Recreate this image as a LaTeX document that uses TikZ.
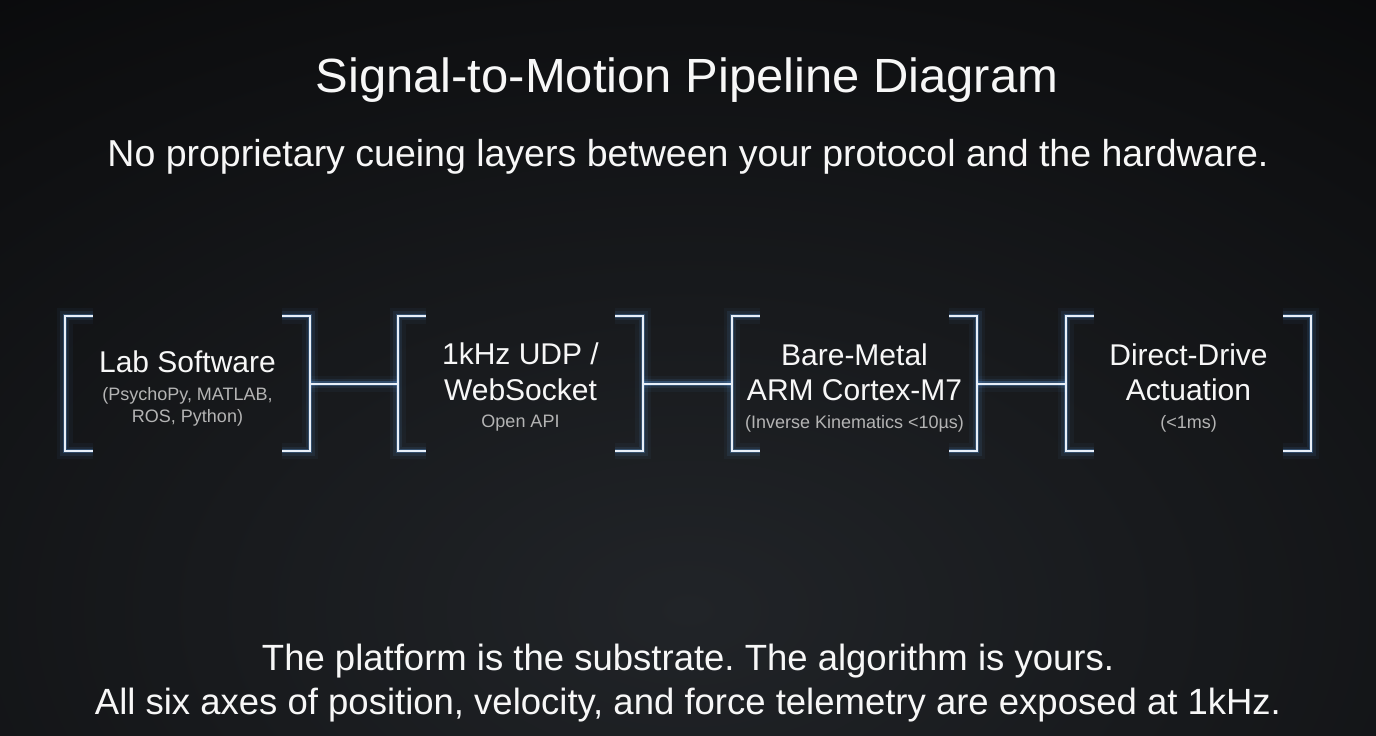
\documentclass[tikz,border=0pt]{standalone}
\usepackage{fontspec}
\setmainfont{Liberation Sans}
\newfontfamily\titlefont[FakeStretch=1.02]{Liberation Sans}
\usetikzlibrary{calc}
\definecolor{bgout}{HTML}{060607}
\definecolor{bgin}{HTML}{212428}
\definecolor{glow}{HTML}{5A9BE0}
\definecolor{linec}{HTML}{E8EFF8}
\definecolor{subc}{HTML}{B4B4B4}
\definecolor{mainc}{HTML}{F7F7F7}
\tikzset{
  stagebox/.style={draw=none,minimum width=245pt,minimum height=135pt,inner sep=0pt},
  glowA/.style={draw=glow,line width=16pt,opacity=0.05,line join=miter},
  glowB/.style={draw=glow,line width=9pt,opacity=0.10,line join=miter},
  glowC/.style={draw=glow,line width=4.5pt,opacity=0.30,line join=miter},
  coreline/.style={draw=linec,line width=2pt,line join=miter},
  titletxt/.style={text=mainc,anchor=base,inner sep=0pt,font=\titlefont\fontsize{48}{56}\selectfont},
  subtitletxt/.style={text=mainc,anchor=base,inner sep=0pt,font=\fontsize{37.5}{44}\selectfont},
  boxtitle/.style={text=mainc,anchor=base,inner sep=0pt,font=\fontsize{30}{36}\selectfont},
  boxsub/.style={text=subc,anchor=base,inner sep=0pt,font=\fontsize{18}{21}\selectfont},
  foottxt/.style={text=mainc,anchor=base,inner sep=0pt,font=\fontsize{36.5}{42}\selectfont},
}
\begin{document}
\frenchspacing
\begin{tikzpicture}[x=1pt,y=-1pt]
\useasboundingbox (0,0) rectangle (1376,736);
\fill[bgout] (0,0) rectangle (1376,736);
\begin{scope}
\clip (0,0) rectangle (1376,736);
\shade[inner color=bgin,outer color=bgout] (688,610) ellipse (1450 and 900);
\end{scope}

% stage nodes
\node[stagebox] (b1) at (187.5,383.5) {};
\node[stagebox] (b2) at (520.5,383.5) {};
\node[stagebox] (b3) at (854.5,383.5) {};
\node[stagebox] (b4) at (1188.5,383.5) {};

% connectors and brackets, glow layers first
\foreach \st in {glowA,glowB,glowC,coreline}{
  \draw[\st] (b1.east) -- (b2.west);
  \draw[\st] (b2.east) -- (b3.west);
  \draw[\st] (b3.east) -- (b4.west);
  \foreach \b in {b1,b2,b3,b4}{
    \draw[\st] ([xshift=28pt]\b.north west) -- (\b.north west) -- (\b.south west) -- ([xshift=28pt]\b.south west);
    \draw[\st] ([xshift=-28pt]\b.north east) -- (\b.north east) -- (\b.south east) -- ([xshift=-28pt]\b.south east);
  }
}

% headings
\node[titletxt] (title) at (687,92) {Signal-to-Motion Pipeline Diagram};
\node[subtitletxt] (subtitle) at (688,166.5) {No proprietary cueing layers between your protocol and the hardware.};

% box texts
\node[boxtitle] (t1) at (187.5,372) {Lab Software};
\node[boxsub] (s1a) at (187.5,400) {(PsychoPy, MATLAB,};
\node[boxsub] (s1b) at (187.5,422) {ROS, Python)};

\node[boxtitle] (t2a) at (520.5,364) {1kHz UDP /};
\node[boxtitle] (t2b) at (520.5,400) {WebSocket};
\node[boxsub] (s2) at (520.5,427) {Open API};

\node[boxtitle] (t3a) at (854.5,365) {Bare-Metal};
\node[boxtitle] (t3b) at (854.5,400) {ARM Cortex-M7};
\node[boxsub] (s3) at (854.5,428) {(Inverse Kinematics <10µs)};

\node[boxtitle] (t4a) at (1188.5,365) {Direct-Drive};
\node[boxtitle] (t4b) at (1188.5,400) {Actuation};
\node[boxsub] (s4) at (1188.5,428) {(<1ms)};

% footer
\node[foottxt] (f1) at (688,670) {The platform is the substrate. The algorithm is yours.};
\node[foottxt] (f2) at (688,714) {All six axes of position, velocity, and force telemetry are exposed at 1kHz.};
\end{tikzpicture}
\end{document}
